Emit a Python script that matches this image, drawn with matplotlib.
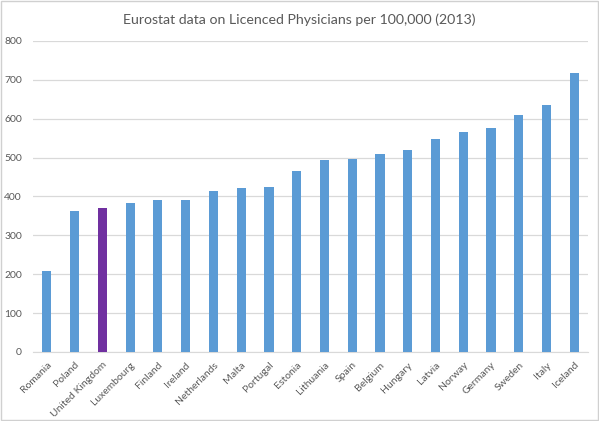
import matplotlib
matplotlib.use("Agg")
import matplotlib.pyplot as plt

countries = ["Romania", "Poland", "United Kingdom", "Luxembourg", "Finland", "Ireland",
             "Netherlands", "Malta", "Portugal", "Estonia", "Lithuania", "Spain", "Belgium",
             "Hungary", "Latvia", "Norway", "Germany", "Sweden", "Italy", "Iceland"]
physicians = [208, 363, 369, 384, 390, 390, 414, 421, 423, 465, 493, 497, 510, 520,
              548, 565, 576, 610, 635, 718]
highlight = "United Kingdom"

plt.rcParams["font.family"] = ["Lato", "DejaVu Sans"]

blue = "#5b9bd5"
purple = "#7030a0"
grey = "#595959"

fig = plt.figure(figsize=(5.99, 4.21), dpi=100)
ax = fig.add_axes([0.055, 0.164, 0.927, 0.739])

cols = [purple if c == highlight else blue for c in countries]
ax.bar(range(len(countries)), physicians, width=0.33, color=cols, zorder=3)

ax.set_xlim(-0.5, len(countries) - 0.5)
ax.set_ylim(0, 800)
ax.set_yticks(range(0, 801, 100))
ax.grid(axis="y", color="#d9d9d9", linewidth=0.9, zorder=0)
ax.set_xticks(range(len(countries)))
ax.set_xticklabels(countries, rotation=45, ha="right", rotation_mode="anchor")
ax.tick_params(axis="both", length=0, labelsize=7.5, colors=grey)
ax.tick_params(axis="x", pad=6)
ax.tick_params(axis="y", pad=8)
for s in ["top", "right", "left"]:
    ax.spines[s].set_visible(False)
ax.spines["bottom"].set_color("#d9d9d9")

fig.text(0.5, 0.953, "Eurostat data on Licenced Physicians per 100,000 (2013)",
         ha="center", va="center", fontsize=10.2, color=grey)

fig.patches.append(plt.Rectangle((0.002, 0.002), 0.996, 0.996, transform=fig.transFigure,
                                 fill=False, edgecolor="#d0d0d0", linewidth=1))

fig.savefig("out.png", dpi=100)
